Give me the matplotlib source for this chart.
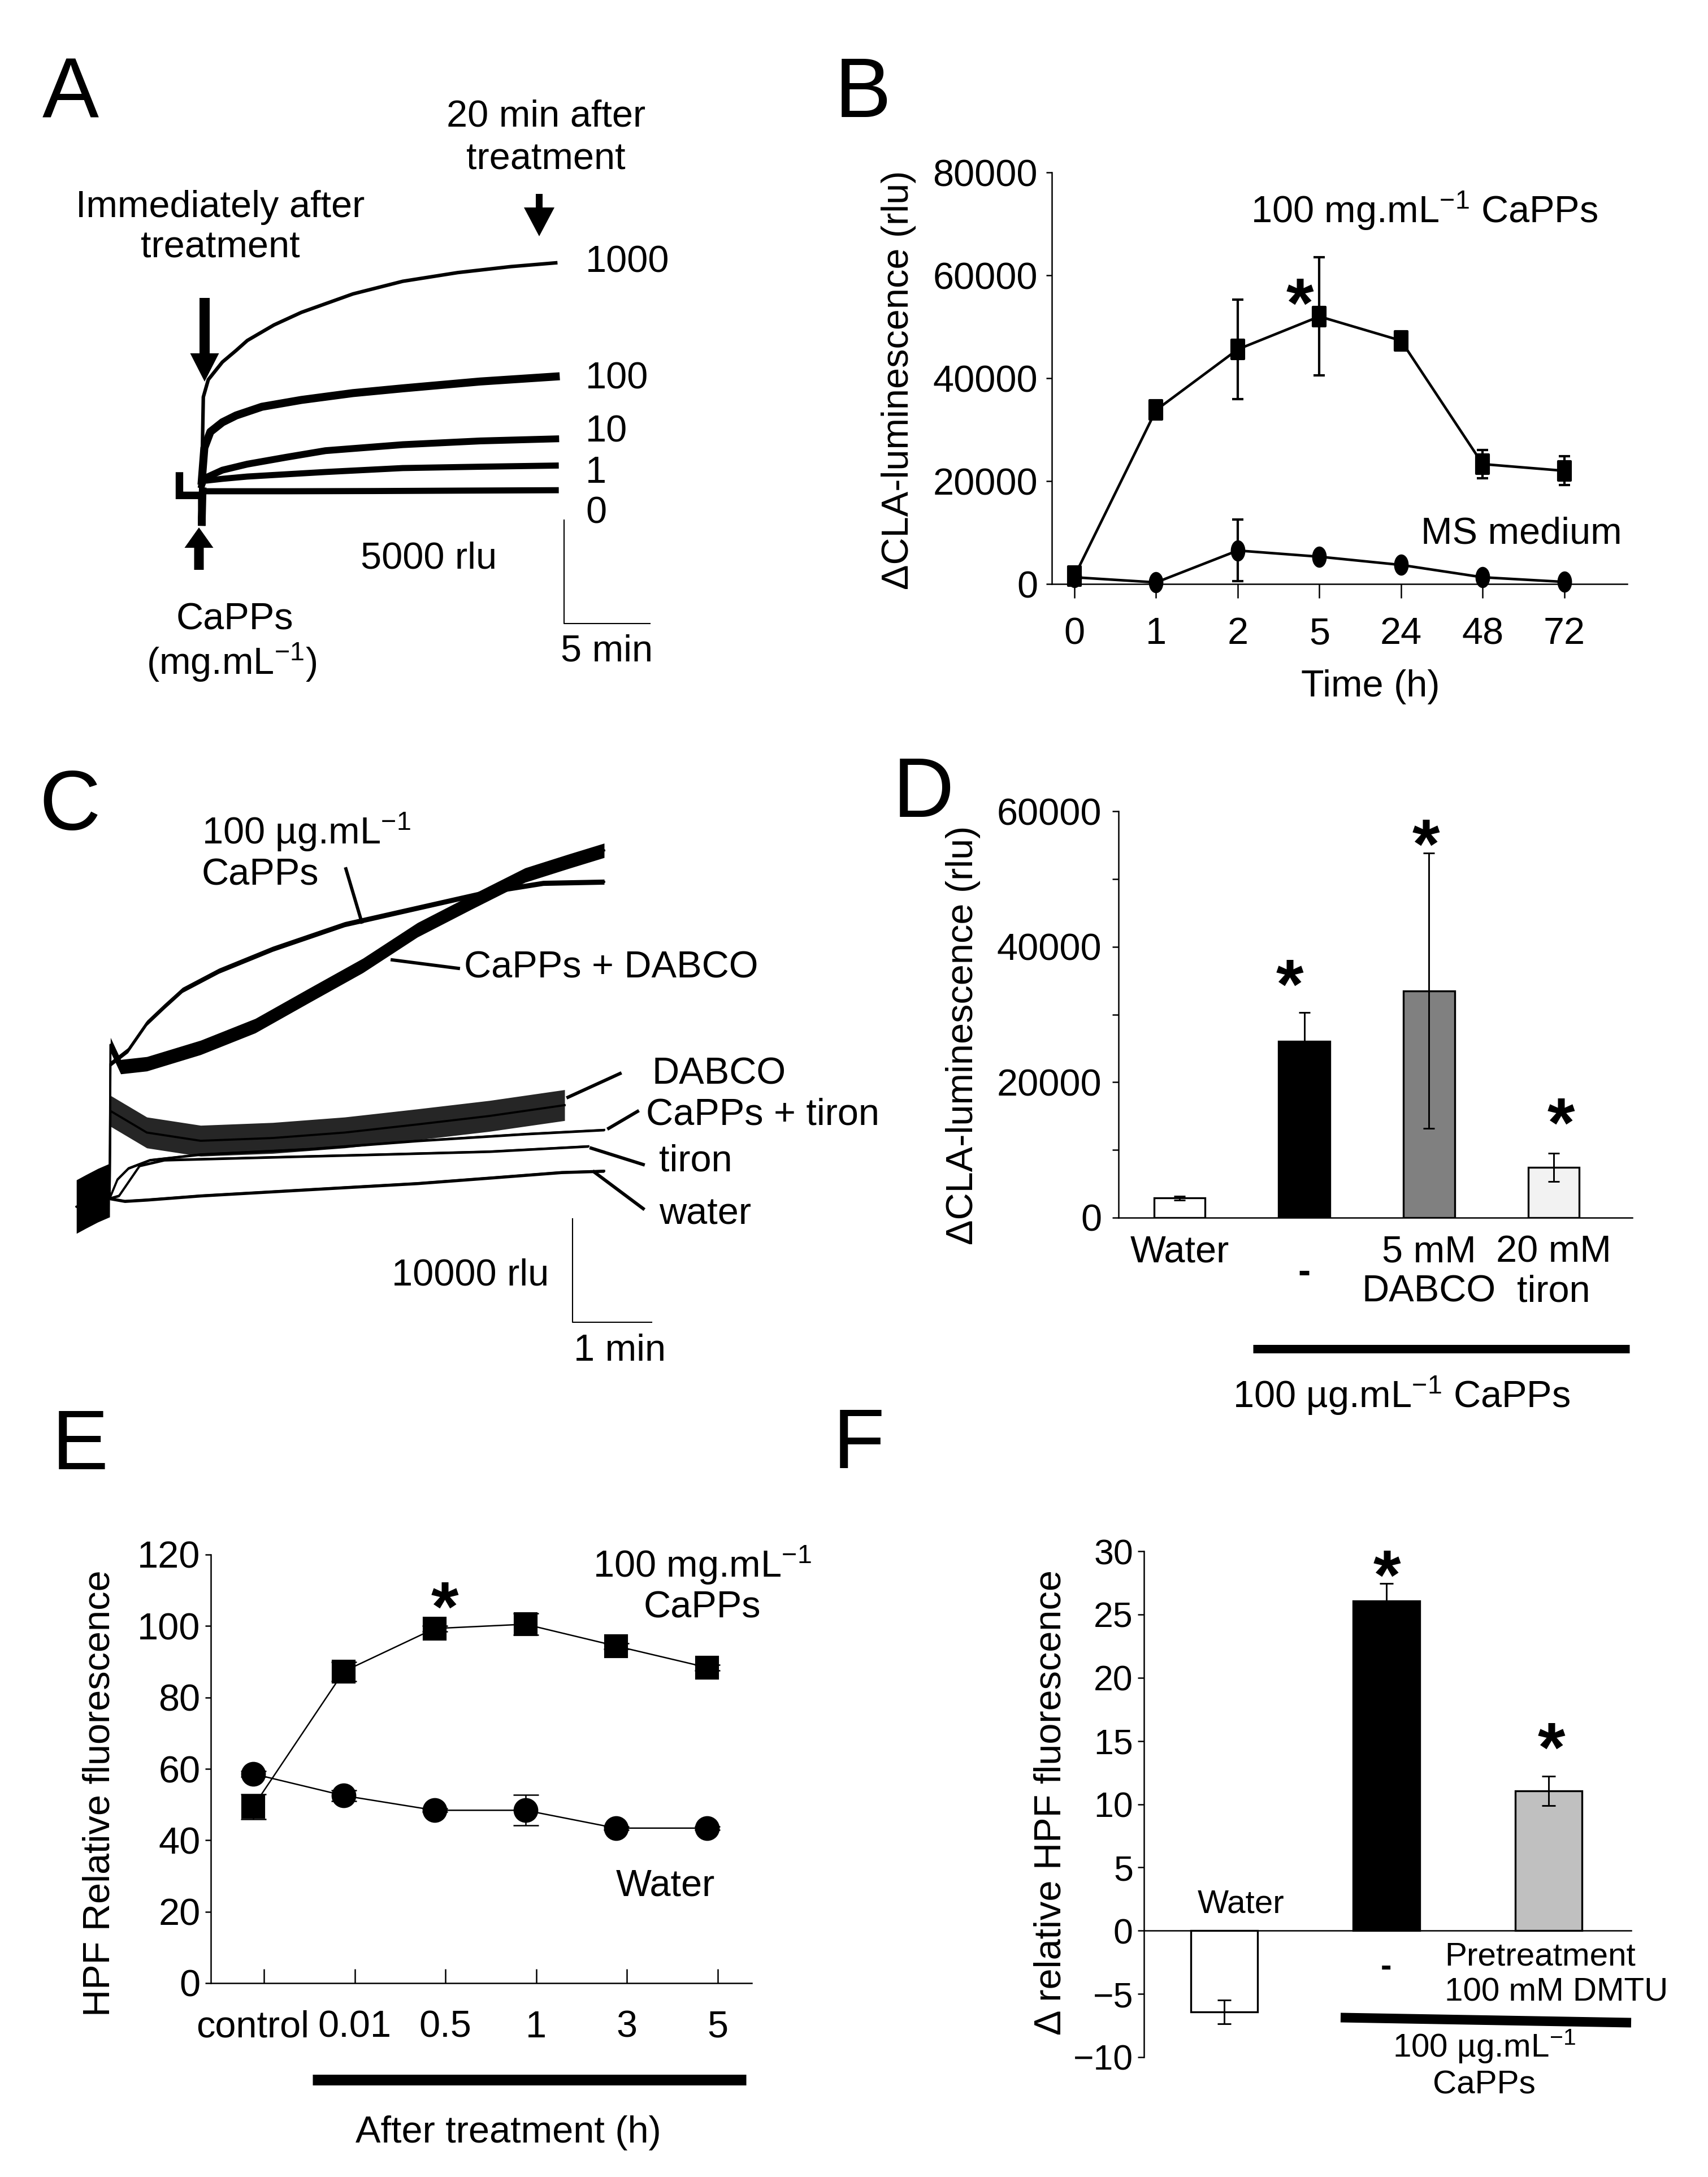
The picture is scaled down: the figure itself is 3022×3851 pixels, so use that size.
import numpy as np
import matplotlib
matplotlib.use('Agg')
import matplotlib.pyplot as plt
from matplotlib.path import Path
from matplotlib.transforms import Affine2D

# ---------------- data ----------------
# A: CLA traces, time (min) after CaPPs, signal (rlu)
a_pre_t = [-1.3, -1.3, -1.25, 0, 0, 0.05]
a_pre_v = [740, -200, -200, -200, -1670, 0]
a0_t = [0.05, 5, 10, 15, 20.6]
a0_v = [0, 0, 10, 30, 50]
a1_t = [0, 0.1, 1.2, 2.65, 7.2, 11.7, 16.2, 20.6]
a1_v = [300, 500, 600, 710, 930, 1120, 1185, 1240]
a10_t = [0, 0.09, 1.2, 2.65, 4.9, 7.2, 11.7, 16.2, 20.6]
a10_v = [300, 600, 1020, 1310, 1640, 1960, 2250, 2430, 2530]
a100_t = [0, 0.15, 0.5, 1.2, 2.0, 3.5, 5.8, 8.8, 11.7, 16.2, 20.6]
a100_v = [500, 2100, 2870, 3330, 3660, 4080, 4410, 4740, 4970, 5300, 5540]
a1000_t = [0, 0.09, 0.38, 1.2, 2.0, 2.65, 4.2, 5.8, 8.8, 11.7, 14.9, 18.0, 20.6]
a1000_v = [500, 4550, 5390, 6240, 6800, 7280, 8030, 8640, 9530, 10140, 10560, 10850, 11030]
a_labels = ['1000', '100', '10', '1', '0']

# B: time course
b_times = ['0', '1', '2', '5', '24', '48', '72']
b_capps = [1500, 33800, 45600, 52000, 47300, 23300, 22000]
b_capps_err = [1400, 1000, 9700, 11500, 1000, 2700, 2800]
b_ms = [1300, 300, 6500, 5300, 3700, 1300, 400]
b_ms_err = [800, 300, 6000, 500, 500, 500, 500]

# C: traces, time (min), signal (rlu); spread = half width of the noise band
c_pre_t = [-0.42, -0.3, -0.15, 0]
c_pre_v = [-800, -300, 300, 800]
c_capps_t = [0, 0.01, 0.23, 0.47, 0.69, 0.92, 1.38, 2.06, 2.97, 3.89, 4.8, 5.48, 6.25]
c_capps_v = [0, 13070, 14380, 17040, 18640, 20240, 22100, 24230, 26620, 28220, 29800, 30630, 30750]
c_dabco_capps_t = [0, 0.01, 0.14, 0.47, 1.15, 1.84, 2.52, 3.2, 3.89, 4.57, 5.25, 5.8, 6.25]
c_dabco_capps_v = [0, 14930, 12790, 13070, 14660, 16770, 19710, 22620, 26080, 28770, 31400, 32740, 33800]
c_dabco_t = [0, 0.01, 0.47, 1.15, 2.06, 2.97, 3.89, 4.8, 5.75]
c_dabco_v = [0, 8500, 6400, 5600, 5870, 6400, 7190, 8010, 9060]
c_tiron_capps_t = [0, 0.1, 0.24, 0.51, 1.15, 2.52, 3.89, 5.25, 6.25]
c_tiron_capps_v = [0, 1860, 2940, 3730, 4280, 4800, 5600, 6260, 6660]
c_tiron_t = [0, 0.12, 0.38, 0.69, 2.06, 3.43, 4.8, 6.05]
c_tiron_v = [0, 270, 3180, 3730, 4010, 4280, 4560, 5070]
c_water_t = [0, 0.19, 0.47, 1.15, 2.06, 2.97, 3.89, 4.8, 5.71, 6.25]
c_water_v = [0, -260, -130, 270, 670, 1070, 1470, 2000, 2540, 2670]
c_spread = {'pre': 2600, 'capps': 250, 'dabco_capps': 700, 'dabco': 1500,
            'tiron_capps': 120, 'tiron': 120, 'water': 150}

# D: bars
d_labels = ['Water', '-', '5 mM\nDABCO', '20 mM\ntiron']
d_vals = [2900, 26000, 33500, 7400]
d_err = [300, 4300, 20300, 2100]
d_colors = ['white', 'black', '#808080', '#f2f2f2']

# E: HPF time course
e_labels = ['control', '0.01', '0.5', '1', '3', '5']
e_capps = [49.4, 87.3, 99.3, 100.5, 94.4, 88.4]
e_capps_err = [3.5, 2.7, 0.8, 3.0, 0.8, 0.8]
e_water = [58.6, 52.5, 48.4, 48.4, 43.4, 43.4]
e_water_err = [0.8, 1.5, 0.5, 4.3, 0.5, 0.5]

# F: bars
f_labels = ['Water', '-', 'Pretreatment\n100 mM DMTU']
f_vals = [-6.43, 26.06, 11.05]
f_err = [0.95, 1.4, 1.15]
f_colors = ['white', 'black', '#c0c0c0']

# ---------------- figure ----------------
W, H = 3022, 3851
plt.rcParams['font.family'] = ['Liberation Sans', 'DejaVu Sans']
plt.rcParams['mathtext.fontset'] = 'custom'
plt.rcParams['mathtext.rm'] = 'Liberation Sans'
plt.rcParams['mathtext.it'] = 'Liberation Sans:italic'
plt.rcParams['mathtext.bf'] = 'Liberation Sans:bold'
plt.rcParams['font.size'] = 16
plt.rcParams['axes.linewidth'] = 0.6

fig = plt.figure(figsize=(W / 300, H / 300), dpi=300)
PT = 72 / 300  # points per pixel


def rect(left, top, right, bottom):
    return [left / W, 1 - bottom / H, (right - left) / W, (bottom - top) / H]


def trace_axes(x0, y0, ppx, ppy, xlim, ylim):
    # x0, y0: pixel where t=0 and signal=0 sit; ppx px/min, ppy px/rlu
    left, right = x0 + xlim[0] * ppx, x0 + xlim[1] * ppx
    top, bottom = y0 - ylim[1] * ppy, y0 - ylim[0] * ppy
    ax = fig.add_axes(rect(left, top, right, bottom))
    ax.set_xlim(*xlim)
    ax.set_ylim(*ylim)
    ax.axis('off')
    return ax


def star(ax, x, y, fs=30):
    ax.annotate('*', (x, y), xytext=(0, -0.62 * fs), textcoords='offset points',
                ha='center', va='baseline', fontsize=fs, fontweight='bold',
                annotation_clip=False)


def plain_axes(ax):
    for s in ['top', 'right']:
        ax.spines[s].set_visible(False)
    ax.patch.set_alpha(0)


# overlay in pixel units for labels, arrows and bars
ov = fig.add_axes([0, 0, 1, 1], zorder=10)
ov.set_xlim(0, W)
ov.set_ylim(H, 0)
ov.axis('off')
ov.patch.set_alpha(0)


def txt(x, y, s, **kw):
    kw.setdefault('ha', 'center')
    kw.setdefault('va', 'center')
    ov.text(x, y, s, **kw)


def arrow(x, y0, y1, ms, hl, hw, tw):
    ov.annotate('', xy=(x, y1), xytext=(x, y0),
                arrowprops=dict(arrowstyle='simple,head_length=%g,head_width=%g,tail_width=%g' % (hl, hw, tw),
                                fc='k', ec='k', lw=0, shrinkA=0, shrinkB=0, mutation_scale=ms))


def hbar(x0, y0, x1, y1, thick):
    ov.plot([x0, x1], [y0, y1], color='k', lw=thick * PT, solid_capstyle='butt')


# panel letters
for lt, x, y in [('A', 75, 207), ('B', 1477, 207), ('C', 69, 1468),
                 ('D', 1580, 1445), ('E', 92, 2599), ('F', 1474, 2597)]:
    txt(x, y, lt, ha='left', va='baseline', fontsize=36)

# ---------------- A ----------------
axA = trace_axes(357, 869, 30.4, 1 / 27.3, (-2, 27), (-7000, 16000))
axA.plot(a_pre_t, a_pre_v, color='k', lw=3.2, solid_joinstyle='miter')
axA.plot(a0_t, a0_v, color='k', lw=2.6)
axA.plot(a1_t, a1_v, color='k', lw=2.6)
axA.plot(a10_t, a10_v, color='k', lw=2.9)
axA.plot(a100_t, a100_v, color='k', lw=3.4)
axA.plot(a1000_t, a1000_v, color='k', lw=1.5)
for lbl, y in zip(a_labels, [465, 670, 765, 837, 909]):
    txt(1036, y, lbl, ha='left')
# scale bar 5 min / 5000 rlu
axA.plot([21.1, 21.1, 26.1], [-1400, -6400, -6400], color='k', lw=0.5, clip_on=False)
txt(966, 207, '20 min after')
txt(966, 283, 'treatment')
txt(390, 367, 'Immediately after')
txt(390, 438, 'treatment')
txt(759, 988, '5000 rlu')
txt(415, 1096, 'CaPPs')
txt(410, 1172, r'(mg.mL$^{-1}$)')
txt(1074, 1152, '5 min')
arrow(362, 527, 675, 12, 1.0, 1.02, 0.36)
arrow(954, 343, 418, 12, 1.02, 1.08, 0.24)
arrow(352, 1008, 933, 12, 0.72, 1.02, 0.34)

# ---------------- B ----------------
rect_mk = Path([(-0.65, -1), (0.65, -1), (0.65, 1), (-0.65, 1), (-0.65, -1)],
               [Path.MOVETO, Path.LINETO, Path.LINETO, Path.LINETO, Path.CLOSEPOLY])
oval_mk = Path.unit_circle().transformed(Affine2D().scale(0.65, 1))
axB = fig.add_axes(rect(1861, 305, 2879, 1033))
plain_axes(axB)
xb = np.arange(len(b_times))
axB.errorbar(xb, b_capps, yerr=b_capps_err, color='k', lw=1.1, marker=rect_mk, ms=8,
             capsize=2.4, elinewidth=1.0, capthick=1.0, clip_on=False)
axB.errorbar(xb, b_ms, yerr=b_ms_err, color='k', lw=1.1, marker=oval_mk, ms=8,
             capsize=2.4, elinewidth=1.0, capthick=1.0, clip_on=False)
axB.set_xlim(-0.277, 6.77)
axB.set_ylim(0, 80000)
axB.set_yticks(np.arange(0, 80001, 20000))
axB.set_xticks(xb)
axB.set_xticklabels(b_times)
axB.tick_params(axis='y', length=2.4, width=0.6, pad=3.6, labelsize=16)
axB.tick_params(axis='x', length=6, width=0.6, pad=8, labelsize=16)
star(axB, 2.76, 58400)
txt(2520, 373, r'100 mg.mL$^{-1}$ CaPPs')
txt(2692, 945, 'MS medium')
txt(1590, 672, 'ΔCLA-luminescence (rlu)', rotation=90)
txt(2425, 1215, 'Time (h)')

# ---------------- C ----------------
axC = trace_axes(194, 2120, 140, 1 / 54.9, (-0.6, 7.2), (-13500, 36000))
c_series = [(c_pre_t, c_pre_v, 'pre', 1.0), (c_capps_t, c_capps_v, 'capps', 1.0),
            (c_dabco_capps_t, c_dabco_capps_v, 'dabco_capps', 1.0),
            (c_dabco_t, c_dabco_v, 'dabco', 0.85), (c_tiron_capps_t, c_tiron_capps_v, 'tiron_capps', 1),
            (c_tiron_t, c_tiron_v, 'tiron', 1), (c_water_t, c_water_v, 'water', 1)]
for t, v, key, al in c_series:
    v = np.array(v, dtype=float)
    sp = c_spread[key]
    axC.fill_between(t, v - sp, v + sp, color='k', alpha=al, lw=0)
    axC.plot(t, v, color='k', lw=0.9)
axC.plot([5.85, 5.85, 6.85], [-2000, -12000, -12000], color='k', lw=0.5, clip_on=False)
txt(357, 1472, r'100 µg.mL$^{-1}$', ha='left')
txt(357, 1549, 'CaPPs', ha='left')
txt(821, 1713, 'CaPPs + DABCO', ha='left')
txt(1153, 1901, 'DABCO', ha='left')
txt(1143, 1973, 'CaPPs + tiron', ha='left')
txt(1166, 2054, 'tiron', ha='left')
txt(1166, 2148, 'water', ha='left')
txt(832, 2257, '10000 rlu')
txt(1097, 2390, '1 min')
for x0, y0, x1, y1 in [(612, 1537, 640, 1631), (694, 1698, 811, 1713), (1005, 1941, 1097, 1899),
                       (1077, 1996, 1128, 1966), (1046, 2031, 1138, 2060), (1051, 2073, 1138, 2138)]:
    ov.plot([x0, x1], [y0, y1], color='k', lw=1.4)

# ---------------- D ----------------
axD = fig.add_axes(rect(1979, 1435, 2888, 2154))
plain_axes(axD)
xd = np.arange(len(d_labels))
axD.bar(xd, d_vals, width=0.41, color=d_colors, edgecolor='k', lw=0.8)
axD.errorbar(xd, d_vals, yerr=d_err, fmt='none', ecolor='k', elinewidth=0.7,
             capsize=2.4, capthick=0.7)
axD.set_xlim(-0.489, 3.63)
axD.set_ylim(0, 60000)
axD.set_yticks(np.arange(0, 60001, 20000))
axD.set_yticks(np.arange(10000, 60000, 20000), minor=True)
axD.tick_params(axis='y', which='both', length=2.6, width=0.6, pad=4.5, labelsize=16)
axD.set_xticks([])
for i, lbl in enumerate(d_labels):
    if lbl == '-':
        axD.annotate(lbl, (i, 0), xycoords=('data', 'axes fraction'), xytext=(0, -16),
                     textcoords='offset points', ha='center', va='top', fontsize=16,
                     fontweight='bold')
    else:
        axD.annotate(lbl, (i, 0), xycoords=('data', 'axes fraction'), xytext=(0, -7.4),
                     textcoords='offset points', ha='center', va='top', fontsize=16,
                     linespacing=1.15)
star(axD, 0.883, 37400)
star(axD, 1.975, 58100)
star(axD, 3.06, 16950)
hbar(2217, 2386, 2883, 2386, 15)
txt(2480, 2469, r'100 µg.mL$^{-1}$ CaPPs')
txt(1704, 1831, 'ΔCLA-luminescence (rlu)', rotation=90)

# ---------------- E ----------------
axE = fig.add_axes(rect(373, 2750, 1330, 3508))
plain_axes(axE)
xe = np.arange(len(e_labels))
axE.errorbar(xe, e_capps, yerr=e_capps_err, color='k', lw=0.6, marker='s', ms=9,
             capsize=5.4, elinewidth=0.6, capthick=0.6, clip_on=False)
axE.errorbar(xe, e_water, yerr=e_water_err, color='k', lw=0.6, marker='o', ms=9.5,
             capsize=5.4, elinewidth=0.6, capthick=0.6, clip_on=False)
axE.set_xlim(-0.467, 5.495)
axE.set_ylim(0, 120)
axE.set_yticks(np.arange(0, 121, 20))
axE.set_xticks(xe + 0.12)
axE.set_xticklabels([])
axE.tick_params(axis='y', length=2.4, width=0.6, pad=2, labelsize=16)
axE.tick_params(axis='x', direction='in', length=6, width=0.6)
for i, lbl in enumerate(e_labels):
    dx = -20 * PT if i == 0 else 0
    axE.annotate(lbl, (i + 0.12, 0), xycoords=('data', 'axes fraction'), xytext=(dx, -11.5),
                 textcoords='offset points', ha='center', va='top', fontsize=16)
star(axE, 2.115, 111)
txt(1242, 2769, r'100 mg.mL$^{-1}$')
txt(1242, 2845, 'CaPPs')
txt(1177, 3336, 'Water')
txt(177, 3172, 'HPF Relative fluorescence', rotation=90)
hbar(553, 3679, 1320, 3679, 19)
txt(899, 3773, 'After treatment (h)')

# ---------------- F ----------------
axF = fig.add_axes(rect(2024, 2744, 2886, 3639))
plain_axes(axF)
xf = np.arange(len(f_labels))
axF.bar(xf, f_vals, width=0.41, color=f_colors, edgecolor='k', lw=0.8)
axF.errorbar(xf, f_vals, yerr=f_err, fmt='none', ecolor='k', elinewidth=0.7,
             capsize=2.9, capthick=0.7)
axF.set_xlim(-0.495, 2.51)
axF.set_ylim(-10, 30)
axF.set_yticks(np.arange(-10, 31, 5))
axF.spines['bottom'].set_position(('data', 0))
axF.set_xticks([])
axF.tick_params(axis='y', length=2.6, width=0.6, pad=2, labelsize=15)
f_offsets = [((7, 4.8), 'center', 'bottom', 'normal'),
             ((0, -9.4), 'center', 'top', 'bold'),
             ((-44, -4.7), 'left', 'top', 'normal')]
for i, (lbl, (off, ha, va, fw)) in enumerate(zip(f_labels, f_offsets)):
    axF.annotate(lbl, (i, 0), xytext=off, textcoords='offset points', ha=ha, va=va,
                 fontsize=14, fontweight=fw, linespacing=1.2)
star(axF, 1.003, 29.7)
star(axF, 2.017, 16.05)
hbar(2372, 3569, 2886, 3578, 17)
txt(2626, 3620, r'100 µg.mL$^{-1}$', fontsize=14)
txt(2626, 3689, 'CaPPs', fontsize=14)
txt(1859, 3189, 'Δ relative HPF fluorescence', rotation=90)

fig.savefig('out.png', dpi=300)
